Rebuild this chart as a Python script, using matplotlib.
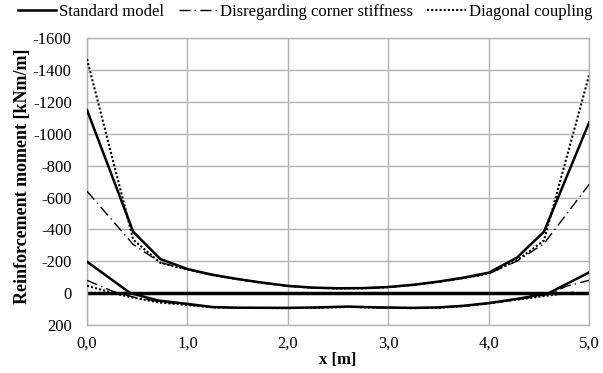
import matplotlib
matplotlib.use("Agg")
import matplotlib.pyplot as plt
import numpy as np

plt.rcParams['font.family'] = ['Liberation Serif', 'DejaVu Serif']

# Standard model
x_std_top = [0.0, 0.46, 0.73, 1.0, 1.25, 1.5, 1.75, 2.0, 2.25, 2.5, 2.75, 3.0, 3.25, 3.5, 3.75, 4.0, 4.28, 4.55, 5.0]
y_std_top = [-1150, -385, -214, -151, -115, -88, -65, -45, -34, -30, -31, -38, -52, -72, -97, -128, -222, -385, -1072]
x_std_bot = [0.0, 0.43, 0.71, 1.0, 1.25, 1.5, 2.0, 2.3, 2.6, 2.9, 3.25, 3.5, 3.75, 4.0, 4.3, 4.6, 5.0]
y_std_bot = [-197, 0, 47, 68, 88, 92, 93, 90, 85, 90, 93, 90, 80, 63, 35, 0, -130]

# Disregarding corner stiffness
x_dc_top = [0.0, 0.46, 0.73, 1.0, 1.25, 1.5, 1.75, 2.0, 2.25, 2.5, 2.75, 3.0, 3.25, 3.5, 3.75, 4.0, 4.28, 4.55, 5.0]
y_dc_top = [-640, -305, -192, -148, -113, -87, -64, -44, -33, -29, -30, -37, -51, -70, -94, -122, -200, -310, -683]
x_dc_bot = [0.0, 0.26, 0.46, 0.73, 1.0, 1.25, 1.5, 2.0, 2.3, 2.6, 2.9, 3.25, 3.5, 3.75, 4.0, 4.3, 4.6, 4.77, 5.0]
y_dc_bot = [-80, -10, 25, 55, 72, 90, 93, 95, 92, 87, 92, 95, 92, 82, 65, 40, 8, -42, -80]

# Diagonal coupling
x_dg_top = [0.0, 0.46, 0.73, 1.0, 1.25, 1.5, 1.75, 2.0, 2.25, 2.5, 2.75, 3.0, 3.25, 3.5, 3.75, 4.0, 4.28, 4.55, 5.0]
y_dg_top = [-1470, -336, -190, -148, -113, -87, -64, -44, -33, -29, -30, -37, -51, -70, -94, -122, -205, -330, -1370]
x_dg_bot = [0.0, 0.26, 0.43, 0.73, 1.0, 1.25, 1.5, 2.0, 2.3, 2.6, 2.9, 3.25, 3.5, 3.75, 4.0, 4.3, 4.6, 4.86]
y_dg_bot = [-46, 0, 25, 60, 75, 90, 93, 95, 92, 87, 92, 95, 92, 82, 65, 40, 15, -5]

x_ticks = [0, 1, 2, 3, 4, 5]
x_ticklabels = ['0,0', '1,0', '2,0', '3,0', '4,0', '5,0']
y_ticks = [-1600, -1400, -1200, -1000, -800, -600, -400, -200, 0, 200]

fig = plt.figure(figsize=(6.03, 3.73), dpi=100)
ax = fig.add_axes([0.1443, 0.129, 0.8327, 0.768])

grid_c = '#b3b3b3'
for s in ax.spines.values():
    s.set_color(grid_c)
    s.set_linewidth(1.0)
ax.grid(True, color=grid_c, linewidth=1.0)
ax.set_axisbelow(True)

ax.axhline(0, color='black', linewidth=2.5, zorder=2)

l1, = ax.plot(x_std_top, y_std_top, color='black', lw=1.8, ls='-', zorder=5)
ax.plot(x_std_bot, y_std_bot, color='black', lw=1.8, ls='-', zorder=5)
l2, = ax.plot(x_dc_top, y_dc_top, color='black', lw=1.0, ls=(0, (8, 3, 1, 3)), zorder=4)
ax.plot(x_dc_bot, y_dc_bot, color='black', lw=1.0, ls=(0, (8, 3, 1, 3)), zorder=4)
l3, = ax.plot(x_dg_top, y_dg_top, color='black', lw=1.5, ls=(0, (1, 1)), zorder=4)
ax.plot(x_dg_bot, y_dg_bot, color='black', lw=1.5, ls=(0, (1, 1)), zorder=4)

ax.set_xlim(0, 5)
ax.set_ylim(200, -1600)
ax.set_xticks(x_ticks)
ax.set_xticklabels(x_ticklabels)
ax.set_yticks(y_ticks)
ax.set_yticklabels([str(v) for v in y_ticks])
ax.tick_params(axis='both', length=0, labelsize=12)
ax.tick_params(axis='y', pad=11)
ax.tick_params(axis='x', pad=8)

ax.set_xlabel('x [m]', fontsize=12, fontweight='bold', labelpad=0)
ax.set_ylabel('Reinforcement moment [kNm/m]', fontsize=13, fontweight='bold', labelpad=3)
ax.yaxis.set_label_coords(-0.112, 0.52)

fig.legend([l1, l2, l3], ['Standard model', 'Disregarding corner stiffness', 'Diagonal coupling'],
           loc='upper center', bbox_to_anchor=(0.506, 1.03), ncol=3, frameon=False,
           fontsize=12, handlelength=2.3, columnspacing=0.85, handletextpad=0.2)

fig.savefig('out.png', dpi=100)
